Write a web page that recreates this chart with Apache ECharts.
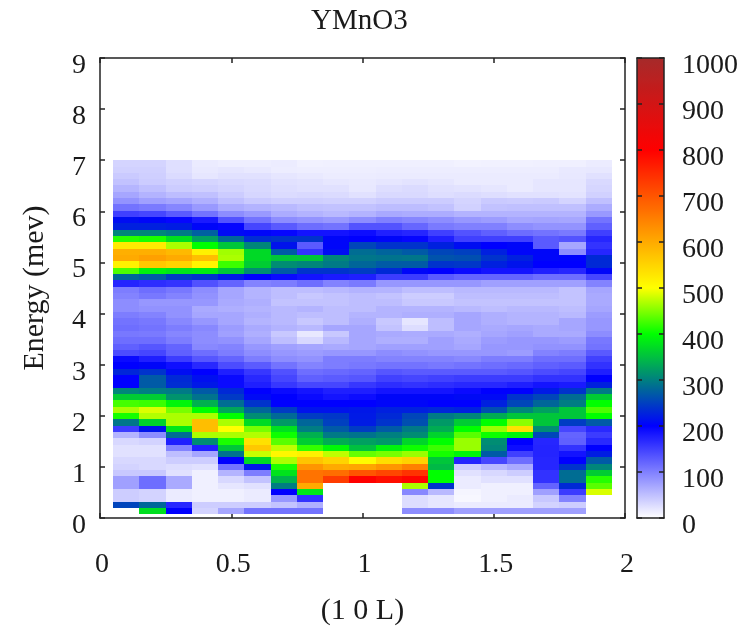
<!DOCTYPE html>
<html>
<head>
<meta charset="utf-8">
<style>html,body{margin:0;padding:0;background:#fff}#c{width:752px;height:626px}#c canvas{filter:blur(0.45px)}</style>
<script src="https://cdn.jsdelivr.net/npm/echarts@6/dist/echarts.min.js"></script>
</head>
<body>
<div id="c"></div>
<script>
const lValues = [0.1,0.2,0.3,0.4,0.5,0.6,0.7,0.8,0.9,1.0,1.1,1.2,1.3,1.4,1.5,1.6,1.7,1.8,1.9];
const energies = [6.938,6.814,6.691,6.567,6.443,6.319,6.196,6.072,5.948,5.825,5.701,5.577,5.454,5.330,5.206,5.082,4.959,4.835,4.711,4.588,4.464,4.340,4.217,4.093,3.969,3.845,3.722,3.598,3.474,3.351,3.227,3.103,2.980,2.856,2.732,2.608,2.485,2.361,2.237,2.114,1.990,1.866,1.742,1.619,1.495,1.371,1.248,1.124,1.000,0.876,0.753,0.629,0.505,0.382,0.258,0.134];
const colorTicks = [0,100,200,300,400,500,600,700,800,900,1000];
const palette = ['#ffffff','#8080ff','#0000ff','#008080','#00ff00','#ffff00','#ffaa00','#ff5500','#ff0000','#d21515','#a52a2a'];

const r00=[34,34,25,16,13,13,15,11,12,12,12,12,12,10,11,11,12,12,15];
const r01=[36,36,25,17,20,17,14,13,13,13,14,14,14,14,14,14,14,17,18];
const r02=[42,38,28,20,24,24,20,17,15,15,16,16,16,16,16,16,16,18,24];
const r03=[48,40,36,33,30,28,24,22,19,17,20,22,20,16,16,16,20,20,30];
const r04=[58,50,40,38,34,30,26,24,24,18,26,28,24,22,20,16,20,20,32];
const r05=[70,60,52,50,40,32,28,30,28,24,30,30,26,28,26,24,24,22,36];
const r06=[85,75,70,62,50,42,38,38,36,36,40,40,40,34,42,40,42,34,50];
const r07=[110,105,95,80,65,60,55,50,48,48,52,52,48,36,48,50,50,50,65];
const r08=[150,145,130,110,90,80,65,60,55,60,68,65,65,60,60,60,60,60,80];
const r09=[210,205,195,180,135,110,90,85,80,90,100,95,90,82,78,70,72,70,110];
const r10=[225,225,222,205,195,145,130,115,110,135,135,120,105,100,100,90,85,85,125];
const r11=[305,305,295,275,208,205,195,185,185,190,175,170,150,135,125,115,110,105,150];
const r12=[415,410,375,325,280,235,240,240,205,200,205,195,175,150,150,150,130,135,170];
const r13=[525,525,467,400,355,305,215,130,205,255,240,240,225,210,200,205,130,70,160];
const r14=[594,594,582,517,463,370,270,160,210,285,278,270,255,250,225,205,205,90,170];
const r15=[600,612,600,577,467,370,355,355,305,292,290,292,265,262,240,225,205,202,232];
const r16=[517,565,552,512,423,360,310,305,295,280,270,270,240,243,225,215,200,200,232];
const r17=[430,390,380,385,355,310,270,240,240,247,232,205,200,192,185,185,176,170,205];
const r18=[280,272,248,240,218,200,192,185,180,176,153,153,130,122,122,122,114,114,145];
const r19=[172,165,160,137,122,98,102,114,98,105,82,82,82,82,75,75,75,75,98];
const r20=[102,114,106,90,70,59,51,51,55,60,59,51,51,55,55,55,55,47,70];
const r21=[98,106,98,86,70,59,51,43,47,51,47,39,39,51,51,51,51,47,67];
const r22=[90,82,82,82,67,63,47,47,47,51,51,43,43,47,47,47,47,47,67];
const r23=[90,86,86,67,63,59,55,59,51,51,59,59,59,55,51,55,55,51,70];
const r24=[102,98,86,70,70,63,55,51,51,59,59,63,63,70,63,59,59,55,78];
const r25=[110,106,94,82,70,59,55,43,51,63,43,20,51,70,63,59,59,70,82];
const r26=[114,110,102,94,78,67,60,55,70,70,47,27,51,70,67,70,67,70,82];
const r27=[106,105,95,90,75,63,43,18,43,70,67,65,67,63,70,75,67,67,90];
const r28=[114,114,102,90,86,70,51,31,55,70,63,63,75,67,78,82,82,78,106];
const r29=[125,133,122,94,98,82,75,70,67,70,75,75,75,70,82,82,86,86,110];
const r30=[141,145,125,114,102,90,82,78,82,82,90,86,82,82,82,78,98,102,130];
const r31=[192,176,153,133,122,102,90,86,102,102,98,98,98,94,102,102,114,114,149];
const r32=[200,205,188,169,141,129,110,98,102,106,110,110,106,110,114,118,125,129,161];
const r33=[230,240,210,200,176,157,137,114,118,122,133,129,129,129,129,133,141,145,176];
const r34=[200,270,232,212,192,169,145,125,129,133,149,145,149,153,153,153,161,161,200];
const r35=[200,270,235,218,192,176,157,145,145,157,165,161,165,169,169,176,184,180,225];
const r36=[305,298,295,270,232,200,192,184,176,176,184,184,184,192,200,200,220,240,295];
const r37=[360,360,315,290,245,208,200,192,184,190,205,205,205,208,208,240,255,285,360];
const r38=[427,423,392,338,285,240,200,200,200,200,205,205,200,200,225,255,280,298,400];
const r39=[467,486,447,400,330,280,247,215,215,218,225,225,230,225,262,305,325,355,430];
const r40=[408,470,467,467,400,310,283,247,243,220,232,255,295,305,335,355,355,355,400];
const r41=[292,365,467,577,467,372,320,280,250,222,240,262,320,360,400,455,355,247,270];
const r42=[153,216,380,577,500,447,376,298,270,247,270,295,335,400,460,535,310,145,168];
const r43=[59,90,285,467,467,470,405,338,295,290,300,310,365,435,405,392,255,122,153];
const r44=[31,35,176,310,410,535,435,360,335,325,318,368,400,460,310,200,170,125,168];
const r45=[24,24,98,175,355,565,475,420,395,350,390,405,423,460,305,190,172,160,200];
const r46=[24,24,51,70,290,478,510,517,475,440,447,460,408,392,270,150,172,185,222];
const r47=[31,31,39,39,200,370,467,570,552,505,540,553,355,172,145,114,170,200,270];
const r48=[35,31,27,24,110,216,410,625,600,606,625,650,345,39,55,67,170,240,305];
const r49=[43,43,24,12,59,102,378,665,672,700,718,740,400,24,31,39,161,285,360];
const r50=[75,114,67,12,31,47,340,665,730,800,785,795,400,16,24,24,161,285,415];
const r51=[75,114,67,12,20,24,298,600,null,null,null,467,240,16,12,12,122,232,435];
const r52=[39,35,16,12,12,16,200,382,null,null,null,94,55,8,12,12,75,153,485];
const r53=[39,35,16,12,12,16,82,161,null,null,null,27,20,6,12,16,43,98,null];
const r54=[253,280,170,39,39,39,47,63,null,null,null,27,20,16,16,16,35,39,null];
const r55=[null,375,200,35,70,110,110,110,null,null,null,90,90,75,75,75,75,75,null];
const rows=[r00,r01,r02,r03,r04,r05,r06,r07,r08,r09,r10,r11,r12,r13,r14,r15,r16,r17,r18,r19,r20,r21,r22,r23,r24,r25,r26,r27,r28,r29,r30,r31,r32,r33,r34,r35,r36,r37,r38,r39,r40,r41,r42,r43,r44,r45,r46,r47,r48,r49,r50,r51,r52,r53,r54,r55];

const cells=[];
rows.forEach((row,i)=>row.forEach((v,j)=>{ if(v!==null) cells.push([lValues[j],energies[i],v]); }));

const halfW=0.05, halfH=0.0625;
const FONT='"Liberation Serif","Times New Roman",serif';
const INK='#1a1a1a';
const labelStyle={fontFamily:FONT,fontSize:28,color:INK};
const line={show:true,onZero:false,lineStyle:{color:'#222',width:1.5}};
const tick={show:true,inside:true,length:5,lineStyle:{color:'#222',width:1.5}};

const chart=echarts.init(document.getElementById('c'),null,{renderer:'canvas'});
chart.setOption({
  animation:false,
  backgroundColor:'#fff',
  title:{text:'YMnO3',left:306,top:2,textStyle:{fontFamily:FONT,fontSize:29,fontWeight:'normal',color:INK}},
  grid:[
    {left:100,top:58,width:525,height:460,outerBoundsMode:'none'},
    {left:637,top:58,width:27,height:460,outerBoundsMode:'none'}
  ],
  xAxis:[
    {type:'value',gridIndex:0,min:0,max:2,interval:0.5,position:'bottom',splitLine:{show:false},axisLine:line,axisTick:tick,
     axisLabel:Object.assign({},labelStyle,{margin:33,padding:[0,0,0,4],showMinLabel:true,showMaxLabel:true}),
     name:'(1 0 L)',nameLocation:'middle',nameGap:78,nameTextStyle:{fontFamily:FONT,fontSize:30,color:INK}},
    {type:'value',gridIndex:0,min:0,max:2,interval:0.5,position:'top',splitLine:{show:false},axisLine:line,axisTick:tick,axisLabel:{show:false}},
    {type:'value',gridIndex:1,min:0,max:1,position:'bottom',z:10,splitLine:{show:false},axisLine:line,axisTick:{show:false},axisLabel:{show:false}},
    {type:'value',gridIndex:1,min:0,max:1,position:'top',z:10,splitLine:{show:false},axisLine:line,axisTick:{show:false},axisLabel:{show:false}}
  ],
  yAxis:[
    {type:'value',gridIndex:0,min:0,max:9,interval:1,position:'left',splitLine:{show:false},axisLine:line,axisTick:tick,
     axisLabel:Object.assign({},labelStyle,{margin:14,verticalAlign:'top',lineHeight:15}),
     name:'Energy (mev)',nameLocation:'middle',nameGap:50,nameTextStyle:{fontFamily:FONT,fontSize:30,color:INK}},
    {type:'value',gridIndex:0,min:0,max:9,interval:1,position:'right',splitLine:{show:false},axisLine:line,axisTick:tick,axisLabel:{show:false}},
    {type:'value',gridIndex:1,min:0,max:1000,interval:100,position:'right',z:10,splitLine:{show:false},axisLine:line,axisTick:tick,
     axisLabel:Object.assign({},labelStyle,{margin:18,verticalAlign:'top',lineHeight:15,formatter:v=>String(v)})},
    {type:'value',gridIndex:1,min:0,max:1000,interval:100,position:'left',z:10,splitLine:{show:false},axisLine:line,axisTick:tick,axisLabel:{show:false}}
  ],
  visualMap:{
    type:'continuous',show:true,min:colorTicks[0],max:colorTicks[colorTicks.length-1],
    dimension:2,seriesIndex:0,calculable:false,hoverLink:false,
    left:637,top:58,itemWidth:27,itemHeight:460,padding:0,
    inRange:{color:palette}
  },
  series:[{
    type:'custom',xAxisIndex:0,yAxisIndex:0,silent:true,
    encode:{x:0,y:1},
    data:cells,
    renderItem:function(params,api){
      const x=api.value(0),y=api.value(1);
      const a=api.coord([x-halfW,y+halfH]);
      const b=api.coord([x+halfW,y-halfH]);
      const x0=Math.round(a[0]),y0=Math.round(a[1]),x1=Math.round(b[0]),y1=Math.round(b[1]);
      return {type:'rect',shape:{x:x0,y:y0,width:x1-x0,height:y1-y0},style:{fill:api.visual('color')}};
    }
  }]
});
</script>
</body>
</html>
